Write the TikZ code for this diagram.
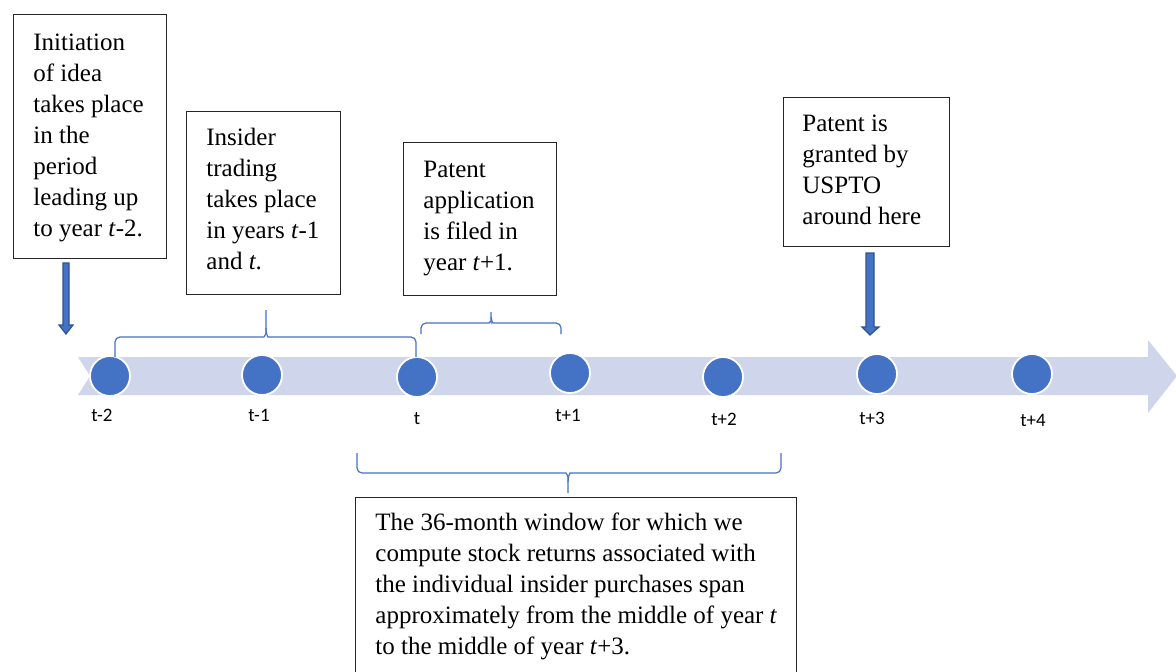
\documentclass[tikz,border=0pt]{standalone}
\usepackage{fontspec}
\setmainfont{Liberation Serif}
\newfontfamily\lblfont{Carlito}
\definecolor{band}{RGB}{207,213,234}
\definecolor{dotblue}{RGB}{68,114,196}
\definecolor{arrowedge}{RGB}{47,82,143}
\begin{document}
\begin{tikzpicture}[x=0.5pt,y=-0.5pt,
  frame/.style={draw=black!85, line width=0.7pt, fill=white, anchor=north west, inner sep=0pt},
  txt/.style={align=left, anchor=north west, inner sep=0pt, font=\fontsize{12.5}{15.5}\selectfont},
  dot/.style={circle, fill=dotblue, draw=white, line width=0.9pt, minimum size=20pt, inner sep=0pt},
  lbl/.style={font=\lblfont\fontsize{9.5}{11}\selectfont, inner sep=0pt},
  brace/.style={draw=dotblue, line width=0.6pt, rounded corners=2.5pt},
  blockarrow/.style={fill=dotblue, draw=arrowedge, line width=0.6pt}]
\useasboundingbox (0,0) rectangle (1176,671);
\clip (0,0) rectangle (1176,671);
% timeline band
\fill[band] (78,357) -- (1148,357) -- (1148,340) -- (1177,376) -- (1148,413) -- (1148,395) -- (78,395) -- (90,376) -- cycle;
% dots
\node[dot] (c1) at (110,376) {};
\node[dot] (c2) at (262,375) {};
\node[dot] (c3) at (417,377) {};
\node[dot] (c4) at (570,373) {};
\node[dot] (c5) at (723,377) {};
\node[dot] (c6) at (877,374) {};
\node[dot] (c7) at (1032,374) {};
% labels
\node[lbl] (l1) at (102,415) {t-2};
\node[lbl] (l2) at (259,415) {t-1};
\node[lbl] (l3) at (417,419) {t};
\node[lbl] (l4) at (568,415) {t+1};
\node[lbl] (l5) at (724,419) {t+2};
\node[lbl] (l6) at (872,418) {t+3};
\node[lbl] (l7) at (1033,420) {t+4};
% boxes
\node[frame, minimum width=76.5pt, minimum height=122pt] (b1) at (13,14) {};
\node[txt] (t1) at (33,28.3)
  {\strut Initiation\\of idea\\takes place\\in the\\period\\leading up\\to year \textit{t}-2.};
\node[frame, minimum width=77pt, minimum height=91.5pt] (b2) at (186,111) {};
\node[txt] (t2) at (206,123.3)
  {\strut Insider\\trading\\takes place\\in years \textit{t}-1\\and \textit{t}.};
\node[frame, minimum width=76.5pt, minimum height=76.5pt] (b3) at (403,142) {};
\node[txt] (t3) at (423,155.3)
  {\strut Patent\\application\\is filed in\\year \textit{t}+1.};
\node[frame, minimum width=83pt, minimum height=74.5pt] (b4) at (783,97) {};
\node[txt] (t4) at (802,109.3)
  {\strut Patent is\\granted by\\USPTO\\around here};
\node[frame, minimum width=220.5pt, minimum height=89pt] (b5) at (355,497) {};
\node[txt] (t5) at (375,508.3)
  {\strut The 36-month window for which we\\compute stock returns associated with\\the individual insider purchases span\\approximately from the middle of year \textit{t}\\to the middle of year \textit{t}+3.};
% block arrows
\draw[blockarrow] (63,263) -- (69,263) -- (69,325) -- (73,325) -- (66,334) -- (59,325) -- (63,325) -- cycle;
\draw[blockarrow] (866,253) -- (874,253) -- (874,327) -- (879,327) -- (870,335) -- (862,327) -- (866,327) -- cycle;
% braces
\draw[brace] (115,357) -- (115,337) -- (259,337) .. controls (264,337) and (266,334) .. (266,328) -- (266,310);
\draw[brace] (416,357) -- (416,337) -- (273,337) .. controls (268,337) and (266,334) .. (266,328);
\draw[brace] (421,334) -- (421,323) -- (484,323) .. controls (489,323) and (491,320) .. (491,317) -- (491,312);
\draw[brace] (561,334) -- (561,323) -- (498,323) .. controls (493,323) and (491,320) .. (491,317);
\draw[brace] (357,453) -- (357,473) -- (561,473) .. controls (566,473) and (568,476) .. (568,482) -- (568,493);
\draw[brace] (781,453) -- (781,473) -- (575,473) .. controls (570,473) and (568,476) .. (568,482);
\end{tikzpicture}
\end{document}
